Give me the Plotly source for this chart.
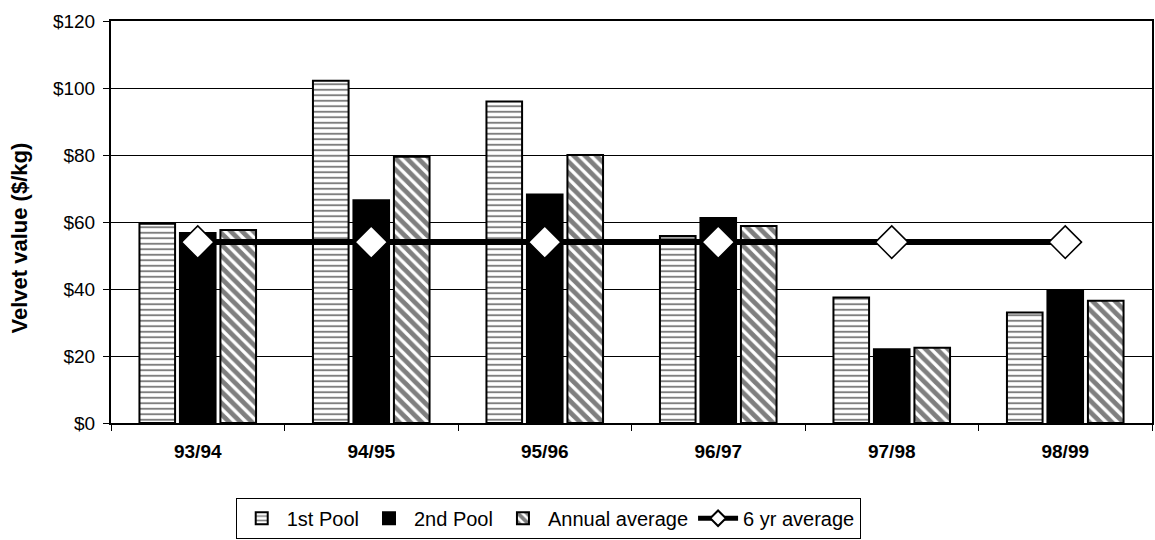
import plotly.graph_objects as go

seasons = ["93/94", "94/95", "95/96", "96/97", "97/98", "98/99"]
pool1 = [59.5, 102.2, 96.0, 55.8, 37.5, 33.0]
pool2 = [56.7, 66.5, 68.2, 61.2, 22.0, 39.7]
annual = [57.6, 79.5, 80.0, 58.8, 22.5, 36.5]
six_yr = [54.0, 54.0, 54.0, 54.0, 54.0, 54.0]
y_ticks = [0, 20, 40, 60, 80, 100, 120]
y_tick_labels = ["$0", "$20", "$40", "$60", "$80", "$100", "$120"]
y_title = "Velvet value ($/kg)"

FONT = "Liberation Sans, Arial, sans-serif"

fig = go.Figure()
fig.add_trace(go.Bar(
    x=seasons, y=pool1, name="1st Pool",
    marker=dict(color="white", line=dict(color="black", width=2),
                pattern=dict(shape="-", size=5.5, solidity=0.35, fgcolor="black", bgcolor="white")),
))
fig.add_trace(go.Bar(
    x=seasons, y=pool2, name="2nd Pool",
    marker=dict(color="black", line=dict(color="black", width=2)),
))
fig.add_trace(go.Bar(
    x=seasons, y=annual, name="Annual average",
    marker=dict(color="white", line=dict(color="black", width=2),
                pattern=dict(shape="\\", size=8, solidity=0.6, fgcolor="black", bgcolor="white")),
))
fig.add_trace(go.Scatter(
    x=seasons, y=six_yr, name="6 yr average", mode="lines+markers",
    line=dict(color="black", width=6),
    marker=dict(symbol="diamond", size=25, color="white", line=dict(color="black", width=1.5)),
))

fig.update_layout(
    width=1155, height=540,
    margin=dict(l=111, r=1, t=21, b=115),
    paper_bgcolor="white", plot_bgcolor="white",
    barmode="group", bargap=0.3, bargroupgap=0.12,
    font=dict(family=FONT, size=19, color="black"),
    showlegend=True,
    legend=dict(orientation="h", x=0.42, xanchor="center", y=-0.186, yanchor="top",
                bordercolor="black", borderwidth=1, bgcolor="white",
                font=dict(family=FONT, size=20, color="black"),
                traceorder="normal", itemsizing="constant", itemwidth=40),
    annotations=[dict(text="<b>" + y_title + "</b>", xref="paper", yref="paper",
                      x=-0.088, y=0.46, xanchor="center", yanchor="middle",
                      textangle=-90, showarrow=False,
                      font=dict(family=FONT, size=22, color="black"))],
)
fig.update_xaxes(
    type="category", showline=True, linecolor="black", linewidth=2, mirror=True,
    ticks="outside", tickson="boundaries", ticklen=6, tickcolor="black",
    ticklabelstandoff=10,
    tickfont=dict(family=FONT, size=19, color="black", weight="bold"),
    showgrid=False,
)
fig.update_yaxes(
    range=[0, 120], tickvals=y_ticks, ticktext=y_tick_labels,
    showline=True, linecolor="black", linewidth=2, mirror=True,
    ticks="outside", ticklen=6, tickcolor="black",
    ticklabelstandoff=4,
    showgrid=True, gridcolor="black", gridwidth=1,
    tickfont=dict(family=FONT, size=19, color="black"),
    zeroline=False,
)

fig.write_html("out.html")
